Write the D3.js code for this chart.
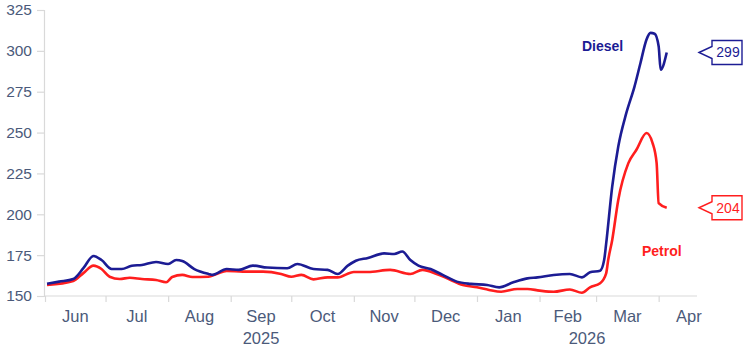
<!DOCTYPE html>
<html>
<head>
<meta charset="utf-8">
<script src="https://cdn.jsdelivr.net/npm/d3@7"></script>
<style>
  body { margin: 0; background: #ffffff; }
  text { font-family: "Liberation Sans", Arial, sans-serif; }
</style>
</head>
<body>
<div id="canvas"></div>
<script>
// DATA (pence per litre)
const dieselDates = ["2025-06-02","2025-06-08","2025-06-15","2025-06-20","2025-06-25","2025-06-29",
  "2025-07-04","2025-07-09","2025-07-14","2025-07-19","2025-07-26","2025-08-01","2025-08-05","2025-08-08",
  "2025-08-14","2025-08-21","2025-08-23","2025-08-30","2025-09-05","2025-09-12","2025-09-19","2025-09-29",
  "2025-10-04","2025-10-12","2025-10-19","2025-10-24","2025-10-29","2025-11-02","2025-11-08","2025-11-16",
  "2025-11-21","2025-11-25","2025-11-29","2025-12-03","2025-12-09","2025-12-15","2025-12-22","2025-12-29",
  "2026-01-06","2026-01-12","2026-01-19","2026-01-26","2026-01-31","2026-02-08","2026-02-16","2026-02-22",
  "2026-02-26","2026-03-03","2026-03-05","2026-03-06","2026-03-09","2026-03-12","2026-03-16","2026-03-20",
  "2026-03-23","2026-03-26","2026-03-28","2026-03-30","2026-04-01","2026-04-02","2026-04-05"];
const dieselValues = [157.5,158.8,160.4,167,174.5,172,
  166.5,166.5,168.5,169,170.8,169.6,172,171.4,
  166.5,163.5,162.9,166.5,166,168.6,167.4,167,
  169.6,166.5,166,163.5,168.6,171.6,173.3,176.1,
  175.7,177.2,172,168.6,166.5,162.9,158.8,157.4,
  156.7,155.3,158.4,160.8,161.4,162.9,163.5,161.4,
  164.5,165.5,172,182,217,241.5,262,278,
  292.6,307,311,310.5,302.8,288.5,299];

const petrolDates = ["2025-06-02","2025-06-15","2025-06-20","2025-06-25","2025-06-29","2025-07-03",
  "2025-07-08","2025-07-13","2025-07-19","2025-07-26","2025-07-31","2025-08-03","2025-08-08","2025-08-13",
  "2025-08-21","2025-08-25","2025-08-30","2025-09-07","2025-09-17","2025-09-26","2025-10-01","2025-10-06",
  "2025-10-12","2025-10-19","2025-10-24","2025-11-01","2025-11-08","2025-11-19","2025-11-29","2025-12-05",
  "2025-12-12","2025-12-18","2025-12-25","2026-01-01","2026-01-07","2026-01-13","2026-01-21","2026-01-26",
  "2026-02-01","2026-02-08","2026-02-16","2026-02-22","2026-02-26","2026-03-03","2026-03-06","2026-03-07",
  "2026-03-09","2026-03-12","2026-03-17","2026-03-21","2026-03-26","2026-03-29","2026-03-31","2026-04-01",
  "2026-04-05"];
const petrolValues = [156.7,159.2,164,168.6,166.5,161.8,
  160.4,161.2,160.4,159.8,158.4,161.6,162.9,161.6,
  161.8,163.5,165.3,164.9,164.9,163.5,161.8,162.9,
  160.2,161.4,161.4,164.7,164.7,166,163.5,166,
  163.5,160.4,156.7,155.3,153.7,152.6,154.3,154.3,
  153.3,152.6,154,152,155.3,157.8,163.9,172,
  184.3,208.8,231.3,239.5,249.7,243.6,231.3,206.8,
  204];

const yTicks = [150, 175, 200, 225, 250, 275, 300, 325];
const monthLabels = ["Jun","Jul","Aug","Sep","Oct","Nov","Dec","Jan","Feb","Mar","Apr"];
const yearLabels = ["2025", "2026"];

// DIMENSIONS
const width = 746;
const height = 351;
const margin = { top: 10, right: 49, bottom: 55, left: 45 };

const parse = d3.timeParse("%Y-%m-%d");
const diesel = dieselDates.map((d, i) => ({ date: parse(d), value: dieselValues[i] }));
const petrol = petrolDates.map((d, i) => ({ date: parse(d), value: petrolValues[i] }));

const startDate = parse("2025-06-01");
const endDate = parse("2026-04-20");

const x = d3.scaleTime()
  .domain([startDate, endDate])
  .range([margin.left, width - margin.right]);

const y = d3.scaleLinear()
  .domain([150, 325])
  .range([height - margin.bottom, margin.top]);

const axisColor = "#d9d9d9";
const labelColor = "#4b5a7a";
const dieselColor = "#1c1c94";
const petrolColor = "#ff1e1e";

// CANVAS
const svg = d3.select("#canvas")
  .append("svg")
  .attr("width", width)
  .attr("height", height);

// Y AXIS
const yAxis = svg.append("g")
  .attr("transform", `translate(${margin.left - 1},0)`)
  .call(d3.axisLeft(y).tickValues(yTicks).tickSize(7).tickPadding(5));
yAxis.select(".domain").attr("stroke", axisColor).attr("stroke-width", 1.2);
yAxis.selectAll(".tick line").attr("stroke", axisColor).attr("stroke-width", 1.2);
yAxis.selectAll(".tick text")
  .attr("fill", labelColor)
  .style("font-size", "15.5px")
  .style("font-family", "'Liberation Sans', Arial, sans-serif");

// X AXIS (month boundaries as ticks)
const months = d3.timeMonth.range(startDate, endDate);
const xAxis = svg.append("g")
  .attr("transform", `translate(0,${height - margin.bottom})`)
  .call(d3.axisBottom(x).tickValues(months).tickSize(6).tickSizeOuter(0).tickFormat(""));
xAxis.select(".domain").attr("stroke", axisColor).attr("stroke-width", 1.2)
  .attr("d", `M${margin.left - 1},0H${width - margin.right}`);
xAxis.selectAll(".tick line").attr("stroke", axisColor).attr("stroke-width", 1.2);

// MONTH LABELS, centred in each month
svg.append("g")
  .selectAll("text")
  .data(months)
  .join("text")
  .attr("x", d => {
    const next = d3.timeMonth.offset(d, 1);
    return (x(d) + x(next)) / 2;
  })
  .attr("y", 322)
  .attr("text-anchor", "middle")
  .attr("fill", labelColor)
  .style("font-size", "16.5px")
  .text((d, i) => monthLabels[i]);

// YEAR LABELS, centred over each year's span
const yearSpans = [[startDate, parse("2026-01-01")], [parse("2026-01-01"), endDate]];
svg.append("g")
  .selectAll("text")
  .data(yearSpans)
  .join("text")
  .attr("x", d => (x(d[0]) + x(d[1])) / 2)
  .attr("y", 344)
  .attr("text-anchor", "middle")
  .attr("fill", labelColor)
  .style("font-size", "16.5px")
  .text((d, i) => yearLabels[i]);

// LINES
const line = d3.line()
  .x(d => x(d.date))
  .y(d => y(d.value))
  .curve(d3.curveMonotoneX);

svg.append("path")
  .datum(petrol)
  .attr("fill", "none")
  .attr("stroke", petrolColor)
  .attr("stroke-width", 2.6)
  .attr("stroke-linejoin", "round")
  .attr("d", line);

svg.append("path")
  .datum(diesel)
  .attr("fill", "none")
  .attr("stroke", dieselColor)
  .attr("stroke-width", 2.6)
  .attr("stroke-linejoin", "round")
  .attr("d", line);

// SERIES LABELS
svg.append("text")
  .attr("x", 582).attr("y", 51)
  .attr("fill", dieselColor)
  .style("font-size", "14px").style("font-weight", "bold")
  .text("Diesel");

svg.append("text")
  .attr("x", 642).attr("y", 256)
  .attr("fill", petrolColor)
  .style("font-size", "14px").style("font-weight", "bold")
  .text("Petrol");

// LAST VALUE CALLOUTS
function callout(series, color) {
  const last = series[series.length - 1];
  const cy = y(last.value);
  const tip = 699, left = 712, right = 742, h = 12, n = 6;
  svg.append("path")
    .attr("d", `M${tip},${cy}L${left},${cy - n}V${cy - h}H${right}V${cy + h}H${left}V${cy + n}Z`)
    .attr("fill", "#ffffff")
    .attr("stroke", color)
    .attr("stroke-width", 1.4);
  svg.append("text")
    .attr("x", (left + right) / 2 + 1)
    .attr("y", cy + 5)
    .attr("text-anchor", "middle")
    .attr("fill", color)
    .style("font-size", "14px")
    .text(Math.round(last.value));
}

callout(diesel, dieselColor);
callout(petrol, petrolColor);
</script>
</body>
</html>
